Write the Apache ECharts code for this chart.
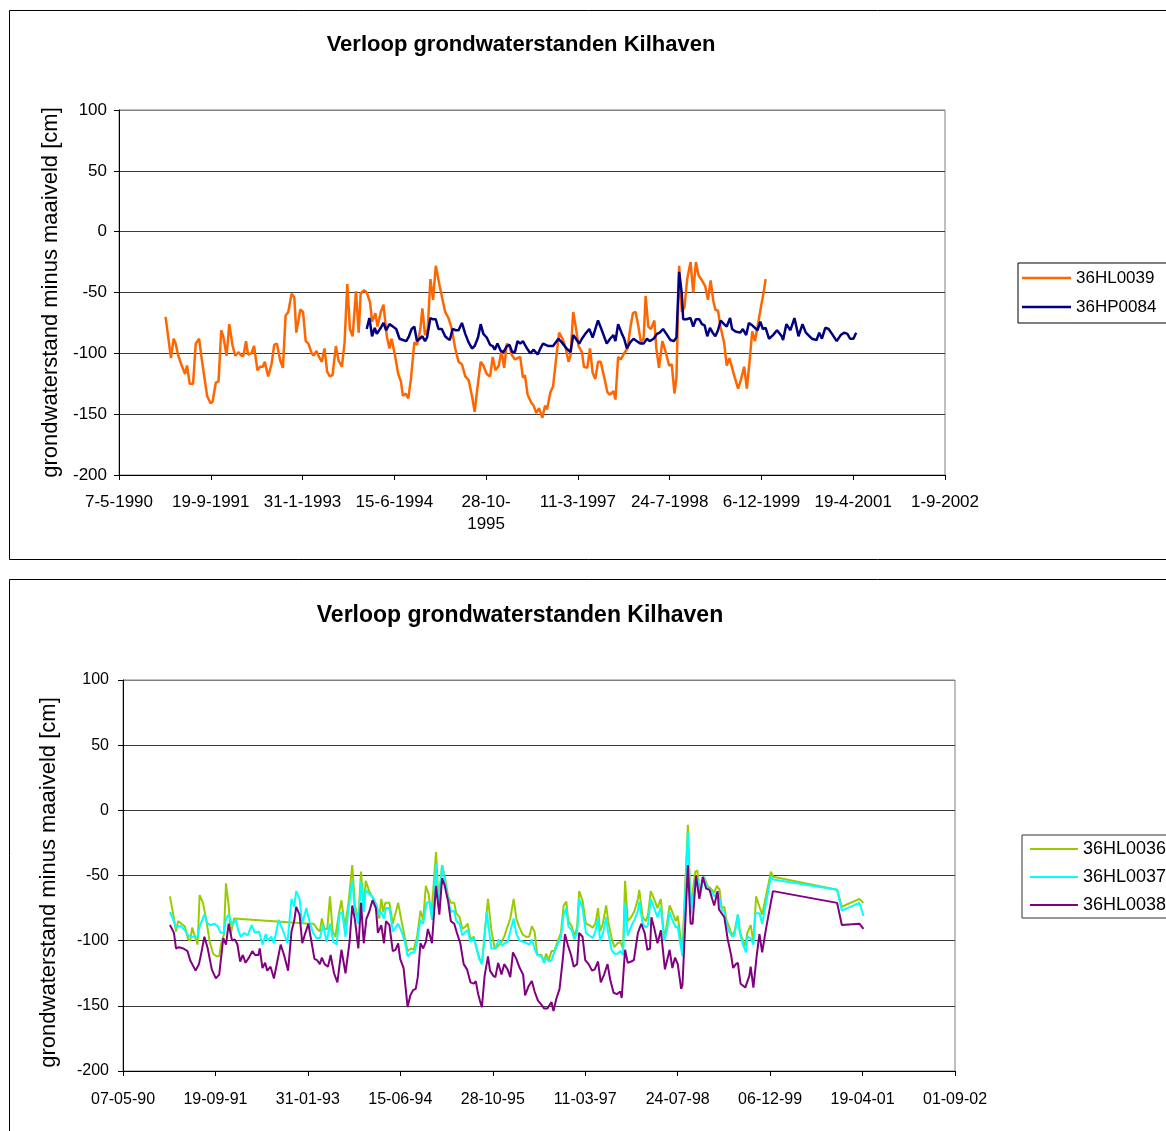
<!DOCTYPE html>
<html><head><meta charset="utf-8">
<script src="https://cdn.jsdelivr.net/npm/echarts@6/dist/echarts.min.js"></script>
<style>html,body{margin:0;padding:0;background:#fff}#c{width:1166px;height:1131px}</style>
</head><body><div id="c"></div>
<script>
// ---- data (x = decimal year, y = cm) ----
const chartTitle = 'Verloop grondwaterstanden Kilhaven';
const yAxisName = 'grondwaterstand minus maaiveld [cm]';
const names1 = ['36HL0039', '36HP0084'];
const names2 = ['36HL0036', '36HL0037', '36HL0038'];
const tickLabels1 = ['7-5-1990','19-9-1991','31-1-1993','15-6-1994','28-10-\n1995','11-3-1997','24-7-1998','6-12-1999','19-4-2001','1-9-2002'];
const tickLabels2 = ['07-05-90','19-09-91','31-01-93','15-06-94','28-10-95','11-03-97','24-07-98','06-12-99','19-04-01','01-09-02'];
const startYear = 1990 + 126/365; // 7-5-1990

const hl0039 = [[1991.04,-70],[1991.12,-104],[1991.16,-88],[1991.19,-92],[1991.23,-102],[1991.28,-110],[1991.33,-117],[1991.36,-110],[1991.40,-125],[1991.45,-125],[1991.49,-92],[1991.54,-88],[1991.58,-105],[1991.63,-124],[1991.66,-135],[1991.71,-141],[1991.74,-140],[1991.79,-124],[1991.83,-123],[1991.87,-81],[1991.90,-86],[1991.95,-102],[1991.99,-76],[1992.04,-94],[1992.08,-102],[1992.13,-99],[1992.17,-102],[1992.20,-102],[1992.24,-90],[1992.27,-101],[1992.32,-100],[1992.36,-94],[1992.41,-114],[1992.45,-111],[1992.49,-111],[1992.52,-107],[1992.57,-119],[1992.62,-109],[1992.66,-93],[1992.70,-92],[1992.75,-106],[1992.79,-112],[1992.83,-69],[1992.87,-66],[1992.92,-51],[1992.96,-54],[1992.99,-83],[1993.05,-64],[1993.09,-66],[1993.13,-90],[1993.17,-92],[1993.22,-100],[1993.25,-102],[1993.29,-98],[1993.33,-103],[1993.37,-107],[1993.41,-96],[1993.45,-115],[1993.49,-119],[1993.53,-118],[1993.58,-94],[1993.62,-106],[1993.67,-111],[1993.71,-91],[1993.75,-43],[1993.79,-80],[1993.83,-86],[1993.88,-49],[1993.92,-83],[1993.95,-51],[1994.00,-48],[1994.04,-50],[1994.09,-58],[1994.12,-74],[1994.17,-67],[1994.20,-78],[1994.25,-66],[1994.29,-60],[1994.34,-86],[1994.38,-96],[1994.41,-88],[1994.46,-101],[1994.51,-117],[1994.55,-123],[1994.58,-135],[1994.62,-133],[1994.66,-137],[1994.70,-121],[1994.75,-91],[1994.79,-93],[1994.84,-80],[1994.87,-63],[1994.91,-85],[1994.95,-80],[1994.99,-39],[1995.03,-56],[1995.07,-28],[1995.13,-45],[1995.21,-66],[1995.26,-71],[1995.31,-80],[1995.36,-96],[1995.41,-107],[1995.46,-109],[1995.51,-119],[1995.56,-122],[1995.61,-135],[1995.65,-148],[1995.69,-129],[1995.74,-107],[1995.78,-110],[1995.83,-117],[1995.88,-119],[1995.92,-103],[1995.96,-114],[1996.01,-110],[1996.05,-98],[1996.09,-112],[1996.13,-92],[1996.17,-94],[1996.20,-101],[1996.25,-105],[1996.33,-103],[1996.37,-120],[1996.40,-118],[1996.44,-134],[1996.49,-140],[1996.53,-143],[1996.57,-149],[1996.61,-145],[1996.66,-153],[1996.70,-143],[1996.73,-146],[1996.78,-132],[1996.82,-127],[1996.86,-107],[1996.91,-83],[1996.96,-88],[1997.01,-96],[1997.05,-107],[1997.08,-102],[1997.12,-66],[1997.16,-79],[1997.20,-94],[1997.25,-99],[1997.28,-111],[1997.33,-112],[1997.37,-96],[1997.41,-116],[1997.45,-121],[1997.49,-107],[1997.53,-107],[1997.58,-119],[1997.63,-132],[1997.67,-134],[1997.72,-131],[1997.75,-138],[1997.79,-103],[1997.83,-105],[1997.88,-100],[1997.93,-96],[1997.97,-80],[1998.01,-67],[1998.05,-66],[1998.09,-77],[1998.13,-91],[1998.17,-88],[1998.20,-53],[1998.24,-78],[1998.28,-80],[1998.33,-73],[1998.36,-96],[1998.40,-112],[1998.45,-90],[1998.50,-99],[1998.55,-110],[1998.59,-109],[1998.63,-133],[1998.66,-120],[1998.70,-28],[1998.74,-66],[1998.78,-62],[1998.82,-39],[1998.87,-25],[1998.91,-50],[1998.95,-25],[1998.99,-36],[1999.04,-40],[1999.09,-45],[1999.13,-56],[1999.17,-40],[1999.21,-57],[1999.24,-64],[1999.28,-65],[1999.32,-79],[1999.37,-91],[1999.41,-110],[1999.45,-104],[1999.49,-112],[1999.53,-120],[1999.58,-129],[1999.62,-122],[1999.67,-111],[1999.71,-129],[1999.75,-107],[1999.79,-82],[1999.83,-90],[1999.87,-78],[1999.92,-62],[1999.96,-50],[1999.99,-39]];

const hp0084 = [[1994.04,-80],[1994.08,-71],[1994.12,-86],[1994.16,-79],[1994.19,-84],[1994.25,-79],[1994.29,-75],[1994.33,-81],[1994.38,-76],[1994.43,-78],[1994.48,-80],[1994.53,-88],[1994.58,-89],[1994.63,-90],[1994.67,-86],[1994.71,-80],[1994.75,-78],[1994.79,-90],[1994.83,-88],[1994.87,-86],[1994.91,-90],[1994.94,-87],[1994.99,-71],[1995.03,-72],[1995.07,-72],[1995.11,-80],[1995.16,-80],[1995.21,-86],[1995.25,-88],[1995.28,-89],[1995.32,-80],[1995.37,-81],[1995.41,-81],[1995.46,-75],[1995.51,-84],[1995.56,-91],[1995.61,-96],[1995.65,-94],[1995.70,-87],[1995.74,-76],[1995.78,-84],[1995.83,-87],[1995.88,-93],[1995.92,-94],[1995.95,-97],[1995.99,-92],[1996.04,-98],[1996.08,-99],[1996.13,-94],[1996.17,-93],[1996.21,-99],[1996.25,-99],[1996.29,-90],[1996.33,-92],[1996.37,-90],[1996.42,-95],[1996.48,-100],[1996.53,-97],[1996.59,-101],[1996.63,-96],[1996.67,-92],[1996.75,-94],[1996.82,-94],[1996.90,-88],[1996.95,-91],[1997.02,-96],[1997.08,-99],[1997.12,-85],[1997.16,-88],[1997.21,-92],[1997.25,-88],[1997.30,-84],[1997.36,-80],[1997.41,-87],[1997.49,-73],[1997.54,-80],[1997.62,-92],[1997.67,-88],[1997.72,-85],[1997.75,-90],[1997.79,-76],[1997.84,-83],[1997.88,-88],[1997.92,-96],[1997.97,-91],[1998.02,-88],[1998.07,-90],[1998.12,-92],[1998.17,-92],[1998.22,-88],[1998.26,-90],[1998.32,-88],[1998.37,-84],[1998.41,-83],[1998.46,-80],[1998.51,-84],[1998.57,-89],[1998.62,-90],[1998.66,-87],[1998.70,-33],[1998.74,-51],[1998.76,-72],[1998.81,-72],[1998.87,-71],[1998.91,-78],[1998.95,-72],[1999.00,-72],[1999.04,-76],[1999.08,-77],[1999.12,-86],[1999.16,-79],[1999.20,-83],[1999.24,-86],[1999.28,-81],[1999.32,-73],[1999.37,-76],[1999.41,-78],[1999.46,-71],[1999.49,-80],[1999.54,-82],[1999.61,-83],[1999.65,-80],[1999.70,-85],[1999.74,-75],[1999.79,-77],[1999.87,-81],[1999.91,-74],[1999.95,-80],[1999.99,-79],[2000.04,-88],[2000.10,-85],[2000.16,-81],[2000.23,-86],[2000.25,-89],[2000.30,-76],[2000.36,-81],[2000.42,-71],[2000.48,-86],[2000.54,-76],[2000.59,-83],[2000.68,-88],[2000.75,-89],[2000.79,-83],[2000.83,-88],[2000.88,-79],[2000.93,-80],[2000.98,-84],[2001.05,-90],[2001.11,-85],[2001.16,-83],[2001.21,-84],[2001.25,-88],[2001.30,-88],[2001.34,-83]];

const hl0036 = [[1991.04,-66],[1991.09,-80],[1991.13,-93],[1991.16,-85],[1991.21,-87],[1991.26,-89],[1991.31,-99],[1991.34,-100],[1991.37,-90],[1991.41,-97],[1991.45,-103],[1991.48,-65],[1991.53,-71],[1991.58,-85],[1991.63,-101],[1991.68,-110],[1991.73,-112],[1991.77,-112],[1991.80,-102],[1991.84,-95],[1991.87,-56],[1991.91,-73],[1991.94,-95],[1991.99,-83],[1993.11,-87],[1993.17,-87],[1993.22,-91],[1993.26,-93],[1993.29,-83],[1993.33,-91],[1993.37,-91],[1993.41,-66],[1993.45,-93],[1993.49,-97],[1993.54,-80],[1993.58,-69],[1993.63,-89],[1993.68,-73],[1993.74,-42],[1993.78,-73],[1993.83,-84],[1993.87,-47],[1993.91,-75],[1993.94,-54],[1993.99,-62],[1994.05,-68],[1994.10,-73],[1994.14,-83],[1994.17,-68],[1994.20,-78],[1994.23,-71],[1994.29,-71],[1994.34,-87],[1994.42,-71],[1994.47,-85],[1994.52,-98],[1994.56,-108],[1994.61,-106],[1994.65,-107],[1994.70,-97],[1994.75,-77],[1994.79,-84],[1994.83,-58],[1994.87,-64],[1994.91,-80],[1994.94,-61],[1994.98,-32],[1995.02,-70],[1995.07,-42],[1995.11,-51],[1995.16,-66],[1995.20,-71],[1995.25,-71],[1995.28,-79],[1995.33,-82],[1995.37,-91],[1995.42,-89],[1995.45,-87],[1995.49,-99],[1995.54,-97],[1995.58,-106],[1995.62,-113],[1995.66,-118],[1995.70,-95],[1995.75,-68],[1995.80,-92],[1995.85,-106],[1995.90,-104],[1995.95,-101],[1995.99,-97],[1996.04,-89],[1996.08,-83],[1996.13,-68],[1996.17,-83],[1996.21,-89],[1996.26,-95],[1996.31,-97],[1996.36,-97],[1996.40,-89],[1996.44,-93],[1996.48,-111],[1996.54,-111],[1996.58,-116],[1996.61,-110],[1996.65,-115],[1996.69,-108],[1996.73,-108],[1996.78,-101],[1996.83,-94],[1996.87,-73],[1996.91,-70],[1996.94,-85],[1996.99,-89],[1997.03,-96],[1997.07,-90],[1997.10,-62],[1997.15,-69],[1997.20,-87],[1997.25,-88],[1997.30,-90],[1997.34,-87],[1997.38,-75],[1997.41,-93],[1997.45,-87],[1997.50,-73],[1997.53,-85],[1997.58,-98],[1997.62,-105],[1997.67,-102],[1997.71,-101],[1997.75,-106],[1997.78,-54],[1997.82,-85],[1997.87,-82],[1997.92,-77],[1997.97,-68],[1997.99,-61],[1998.04,-82],[1998.09,-85],[1998.12,-80],[1998.16,-62],[1998.21,-68],[1998.26,-75],[1998.31,-68],[1998.36,-99],[1998.40,-87],[1998.44,-73],[1998.48,-78],[1998.53,-85],[1998.56,-81],[1998.60,-97],[1998.63,-106],[1998.71,-11],[1998.75,-74],[1998.78,-63],[1998.82,-47],[1998.85,-46],[1998.89,-65],[1998.93,-53],[1998.95,-51],[1999.00,-58],[1999.05,-60],[1999.10,-63],[1999.14,-58],[1999.18,-61],[1999.21,-75],[1999.25,-74],[1999.28,-84],[1999.32,-89],[1999.36,-96],[1999.40,-93],[1999.45,-80],[1999.48,-93],[1999.52,-99],[1999.56,-104],[1999.59,-94],[1999.64,-88],[1999.68,-101],[1999.72,-66],[1999.77,-74],[1999.81,-80],[1999.94,-47],[1999.97,-51],[2000.92,-61],[2000.99,-74],[2001.25,-68],[2001.31,-71]];

const hl0037 = [[1991.04,-78],[1991.09,-84],[1991.13,-90],[1991.16,-89],[1991.21,-89],[1991.26,-92],[1991.31,-96],[1991.35,-97],[1991.40,-97],[1991.45,-97],[1991.48,-89],[1991.55,-80],[1991.60,-87],[1991.65,-88],[1991.70,-87],[1991.75,-89],[1991.79,-94],[1991.84,-94],[1991.87,-83],[1991.91,-80],[1991.96,-88],[1992.02,-84],[1992.05,-92],[1992.09,-97],[1992.14,-94],[1992.19,-96],[1992.25,-88],[1992.30,-94],[1992.36,-93],[1992.41,-103],[1992.46,-95],[1992.49,-100],[1992.54,-97],[1992.58,-102],[1992.65,-84],[1992.72,-93],[1992.78,-102],[1992.84,-68],[1992.88,-74],[1992.91,-62],[1992.96,-68],[1993.00,-87],[1993.06,-75],[1993.11,-86],[1993.16,-94],[1993.21,-98],[1993.26,-98],[1993.31,-88],[1993.36,-101],[1993.41,-87],[1993.46,-101],[1993.51,-103],[1993.55,-80],[1993.59,-78],[1993.64,-97],[1993.68,-78],[1993.74,-54],[1993.78,-77],[1993.83,-87],[1993.87,-54],[1993.91,-78],[1993.94,-61],[1993.99,-64],[1994.05,-67],[1994.10,-73],[1994.14,-80],[1994.17,-78],[1994.21,-83],[1994.24,-75],[1994.29,-75],[1994.34,-93],[1994.38,-90],[1994.42,-87],[1994.47,-93],[1994.52,-101],[1994.56,-112],[1994.61,-109],[1994.66,-109],[1994.70,-101],[1994.75,-84],[1994.79,-87],[1994.84,-71],[1994.89,-70],[1994.92,-84],[1994.96,-63],[1994.98,-41],[1995.02,-75],[1995.07,-42],[1995.11,-54],[1995.16,-68],[1995.20,-78],[1995.25,-77],[1995.28,-85],[1995.33,-87],[1995.37,-96],[1995.42,-93],[1995.45,-92],[1995.49,-101],[1995.54,-98],[1995.59,-107],[1995.62,-114],[1995.66,-118],[1995.70,-97],[1995.73,-78],[1995.80,-106],[1995.86,-106],[1995.91,-99],[1995.96,-104],[1995.99,-102],[1996.04,-101],[1996.08,-93],[1996.13,-83],[1996.17,-95],[1996.22,-100],[1996.29,-101],[1996.36,-103],[1996.40,-99],[1996.44,-106],[1996.48,-111],[1996.54,-112],[1996.58,-117],[1996.61,-113],[1996.65,-116],[1996.69,-115],[1996.73,-109],[1996.78,-103],[1996.83,-97],[1996.87,-80],[1996.91,-75],[1996.94,-89],[1996.99,-92],[1997.03,-99],[1997.07,-94],[1997.10,-68],[1997.15,-75],[1997.20,-94],[1997.25,-96],[1997.30,-98],[1997.34,-93],[1997.38,-83],[1997.41,-100],[1997.45,-95],[1997.50,-82],[1997.53,-94],[1997.58,-107],[1997.62,-110],[1997.67,-110],[1997.71,-108],[1997.75,-111],[1997.78,-71],[1997.82,-96],[1997.87,-89],[1997.92,-84],[1997.97,-77],[1997.99,-70],[1998.04,-87],[1998.09,-90],[1998.12,-88],[1998.16,-68],[1998.21,-75],[1998.26,-82],[1998.31,-74],[1998.36,-100],[1998.40,-92],[1998.44,-78],[1998.48,-84],[1998.53,-90],[1998.56,-89],[1998.60,-103],[1998.63,-112],[1998.71,-17],[1998.75,-80],[1998.78,-69],[1998.82,-55],[1998.85,-51],[1998.89,-66],[1998.93,-54],[1998.95,-52],[1999.00,-60],[1999.05,-61],[1999.10,-66],[1999.14,-63],[1999.18,-68],[1999.21,-76],[1999.25,-78],[1999.28,-87],[1999.32,-93],[1999.37,-97],[1999.40,-96],[1999.45,-80],[1999.48,-94],[1999.52,-102],[1999.57,-109],[1999.59,-97],[1999.64,-98],[1999.68,-103],[1999.71,-79],[1999.77,-79],[1999.81,-87],[1999.94,-51],[1999.97,-53],[2000.92,-61],[2000.99,-77],[2001.25,-71],[2001.31,-81]];

const hl0038 = [[1991.04,-88],[1991.10,-94],[1991.13,-106],[1991.17,-105],[1991.24,-106],[1991.30,-108],[1991.34,-115],[1991.37,-118],[1991.42,-123],[1991.47,-118],[1991.51,-108],[1991.55,-97],[1991.60,-106],[1991.66,-122],[1991.72,-129],[1991.77,-126],[1991.79,-125],[1991.83,-98],[1991.87,-103],[1991.91,-87],[1991.96,-100],[1992.00,-99],[1992.04,-103],[1992.08,-116],[1992.12,-111],[1992.16,-117],[1992.21,-113],[1992.26,-108],[1992.30,-111],[1992.35,-111],[1992.37,-106],[1992.41,-121],[1992.45,-117],[1992.48,-123],[1992.53,-120],[1992.58,-129],[1992.63,-116],[1992.68,-103],[1992.73,-111],[1992.79,-123],[1992.84,-93],[1992.88,-85],[1992.91,-74],[1992.96,-80],[1993.00,-102],[1993.04,-95],[1993.09,-87],[1993.14,-102],[1993.18,-114],[1993.22,-115],[1993.26,-118],[1993.29,-113],[1993.33,-118],[1993.38,-120],[1993.42,-111],[1993.47,-125],[1993.52,-132],[1993.58,-107],[1993.64,-125],[1993.70,-101],[1993.74,-73],[1993.78,-84],[1993.83,-106],[1993.87,-71],[1993.91,-102],[1993.95,-83],[1993.99,-78],[1994.04,-69],[1994.09,-75],[1994.12,-94],[1994.17,-88],[1994.21,-102],[1994.24,-85],[1994.29,-88],[1994.34,-108],[1994.38,-107],[1994.42,-102],[1994.45,-114],[1994.50,-121],[1994.53,-136],[1994.56,-151],[1994.60,-142],[1994.64,-138],[1994.68,-137],[1994.71,-128],[1994.75,-102],[1994.79,-106],[1994.83,-101],[1994.86,-91],[1994.89,-96],[1994.92,-102],[1994.98,-58],[1995.03,-80],[1995.07,-52],[1995.11,-58],[1995.16,-70],[1995.20,-85],[1995.25,-87],[1995.29,-94],[1995.34,-102],[1995.39,-118],[1995.44,-122],[1995.49,-132],[1995.54,-133],[1995.57,-131],[1995.60,-140],[1995.63,-146],[1995.66,-151],[1995.70,-127],[1995.75,-112],[1995.78,-123],[1995.83,-127],[1995.86,-128],[1995.90,-117],[1995.95,-126],[1995.99,-118],[1996.04,-122],[1996.08,-128],[1996.12,-109],[1996.17,-114],[1996.22,-121],[1996.27,-126],[1996.30,-142],[1996.35,-135],[1996.40,-131],[1996.44,-139],[1996.49,-146],[1996.54,-149],[1996.58,-152],[1996.63,-152],[1996.69,-147],[1996.72,-154],[1996.76,-145],[1996.81,-137],[1996.86,-113],[1996.89,-95],[1996.93,-103],[1996.98,-111],[1997.02,-120],[1997.07,-118],[1997.10,-94],[1997.15,-97],[1997.19,-115],[1997.24,-118],[1997.29,-123],[1997.33,-122],[1997.38,-116],[1997.42,-132],[1997.47,-126],[1997.52,-118],[1997.56,-130],[1997.61,-140],[1997.66,-141],[1997.71,-139],[1997.73,-144],[1997.78,-107],[1997.82,-117],[1997.87,-116],[1997.91,-115],[1997.97,-94],[1998.02,-87],[1998.07,-94],[1998.11,-107],[1998.15,-106],[1998.17,-82],[1998.21,-90],[1998.26,-102],[1998.31,-92],[1998.37,-122],[1998.44,-107],[1998.48,-121],[1998.52,-113],[1998.56,-118],[1998.61,-137],[1998.63,-134],[1998.71,-42],[1998.75,-87],[1998.78,-87],[1998.83,-50],[1998.88,-68],[1998.93,-51],[1998.98,-60],[1999.03,-61],[1999.07,-68],[1999.10,-73],[1999.15,-62],[1999.17,-76],[1999.25,-82],[1999.30,-99],[1999.35,-111],[1999.38,-121],[1999.42,-118],[1999.45,-117],[1999.49,-133],[1999.56,-136],[1999.62,-127],[1999.64,-120],[1999.68,-136],[1999.73,-111],[1999.77,-95],[1999.81,-109],[1999.87,-90],[1999.97,-62],[2000.92,-71],[2000.99,-88],[2001.25,-87],[2001.31,-91]];

// ---- build ----
const FONT = "'Liberation Sans', Arial, sans-serif";
const toDays = yr => (yr - startYear) * 365.25;
const prep = arr => arr.map(p => [toDays(p[0]), p[1]]);

function xAxis(gi, labels, fs, margin) {
  return {
    gridIndex: gi, type: 'value', min: 0, max: 4500, interval: 500,
    axisLine: { show: true, onZero: false, lineStyle: { color: '#000', width: 1 } },
    axisTick: { show: true, length: 5, lineStyle: { color: '#000' } },
    splitLine: { show: false },
    axisLabel: { color: '#000', fontSize: fs, fontFamily: FONT, margin: margin, lineHeight: 22,
      formatter: v => labels[Math.round(v / 500)] || '' }
  };
}
function yAxis(gi, fs, margin, nameGap, nameFs, namePad) {
  return {
    gridIndex: gi, type: 'value', min: -200, max: 100, interval: 50,
    name: yAxisName, nameLocation: 'middle', nameGap: nameGap, nameRotate: 90,
    nameTextStyle: { color: '#000', fontSize: nameFs, fontFamily: FONT, padding: namePad },
    axisLine: { show: true, onZero: false, lineStyle: { color: '#000', width: 1 } },
    axisTick: { show: true, length: 5, lineStyle: { color: '#000' } },
    axisLabel: { color: '#000', fontSize: fs, fontFamily: FONT, margin: margin },
    splitLine: { show: true, lineStyle: { color: ['#000','#3a3a3a','#3a3a3a','#3a3a3a','#3a3a3a','#3a3a3a','#808080'], width: 1 } }
  };
}
function line(name, data, color, width, gi) {
  return {
    name: name, type: 'line', xAxisIndex: gi, yAxisIndex: gi, data: prep(data),
    symbol: 'none', showSymbol: false, lineStyle: { color: color, width: width },
    itemStyle: { color: color }, emphasis: { disabled: true }, silent: true, z: 3
  };
}

const chart = echarts.init(document.getElementById('c'), null, { renderer: 'canvas' });
chart.setOption({
  animation: false,
  backgroundColor: '#fff',
  textStyle: { fontFamily: FONT, color: '#000' },
  title: [
    { text: chartTitle, left: 516, top: 29, textAlign: 'center',
      textStyle: { fontSize: 22, fontWeight: 'bold', color: '#000', fontFamily: FONT } },
    { text: chartTitle, left: 515, top: 599, textAlign: 'center',
      textStyle: { fontSize: 23, fontWeight: 'bold', color: '#000', fontFamily: FONT } }
  ],
  legend: [
    { data: names1, orient: 'vertical', left: 1018, top: 263, itemWidth: 49, itemHeight: 14, itemGap: 12,
      icon: 'path://M0,0H49V2.5H0Z',
      padding: [6.5, 12, 7.5, 4], borderColor: '#000', borderWidth: 1, backgroundColor: '#fff',
      selectedMode: false, textStyle: { fontSize: 17, color: '#000', fontFamily: FONT } },
    { data: names2, orient: 'vertical', left: 1022, top: 835, itemWidth: 48, itemHeight: 14, itemGap: 10,
      icon: 'path://M0,0H48V2H0Z',
      padding: [5, 12, 4, 8], borderColor: '#333', borderWidth: 1, backgroundColor: '#fff',
      selectedMode: false, textStyle: { fontSize: 18, color: '#000', fontFamily: FONT } }
  ],
  grid: [
    { left: 119, top: 110, width: 826, height: 365, show: true, borderColor: '#808080', borderWidth: 1, containLabel: false },
    { left: 123, top: 680, width: 832, height: 391, show: true, borderColor: '#808080', borderWidth: 1, containLabel: false }
  ],
  xAxis: [ xAxis(0, tickLabels1, 17, 16), xAxis(1, tickLabels2, 16, 18) ],
  yAxis: [ yAxis(0, 17, 12, 55, 22, [0, 0, 0, 0]), yAxis(1, 16, 14, 63, 22, [0, 14, 0, 0]) ],
  series: [
    line(names1[0], hl0039, '#FF6600', 2.5, 0),
    line(names1[1], hp0084, '#000080', 2.5, 0),
    line(names2[0], hl0036, '#99CC00', 2, 1),
    line(names2[1], hl0037, '#00FFFF', 2, 1),
    line(names2[2], hl0038, '#800080', 2, 1)
  ],
  graphic: [
    { type: 'rect', silent: true, z: -10, shape: { x: 9.5, y: 10.5, width: 1200, height: 549 },
      style: { fill: 'none', stroke: '#000', lineWidth: 1 } },
    { type: 'rect', silent: true, z: -10, shape: { x: 9.5, y: 579.5, width: 1200, height: 600 },
      style: { fill: 'none', stroke: '#000', lineWidth: 1 } }
  ]
});
</script>
</body></html>
